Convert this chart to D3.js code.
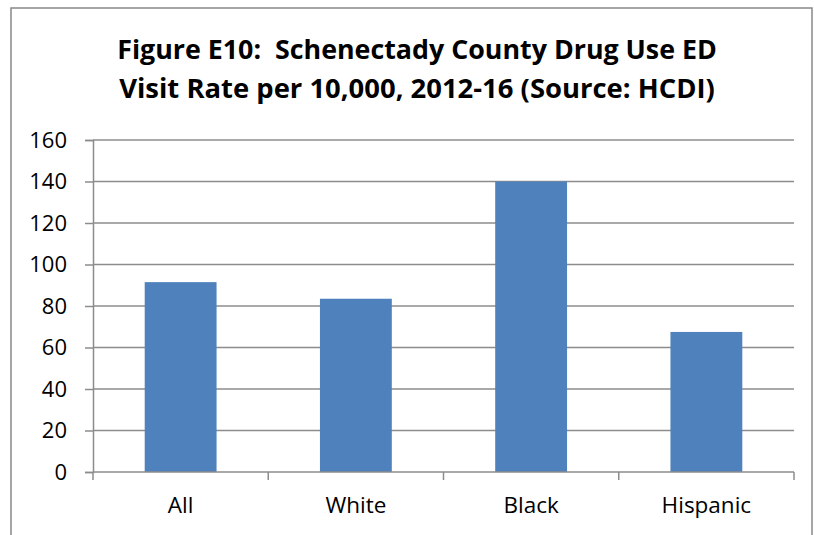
<!DOCTYPE html>
<html>
<head>
<meta charset="utf-8">
<script src="https://cdn.jsdelivr.net/npm/d3@7/dist/d3.min.js"></script>
<style>
  html, body { margin: 0; padding: 0; background: #fff; }
  svg { display: block; }
  text { font-family: "Open Sans", "Noto Sans", sans-serif; fill: #000; white-space: pre; }
</style>
</head>
<body>
<svg id="chart" width="814" height="535"></svg>
<script>
// Drug use ED visit rate per 10,000 by race/ethnicity
const categories = ["All", "White", "Black", "Hispanic"];
const rates = [91.5, 83.5, 140, 67.5];
const yTicks = [0, 20, 40, 60, 80, 100, 120, 140, 160];
const titleLines = [
  "Figure E10:  Schenectady County Drug Use ED",
  "Visit Rate per 10,000, 2012-16 (Source: HCDI)"
];

const svg = d3.select("#chart");
const W = 814, H = 535;
const margin = { left: 93, right: 20, top: 140, bottom: 63 };
const plotW = W - margin.left - margin.right;
const plotH = H - margin.top - margin.bottom;

// Outer chart frame
svg.append("rect")
  .attr("x", 11).attr("y", 8)
  .attr("width", 801).attr("height", 540)
  .attr("fill", "#fff")
  .attr("stroke", "#888").attr("stroke-width", 1.5);

// Title, fitted to its line width
const titleWidths = [600, 596];
titleLines.forEach((t, i) => {
  const el = svg.append("text")
    .attr("x", 417).attr("y", 59 + i * 38.5)
    .attr("text-anchor", "middle")
    .attr("font-weight", "bold")
    .attr("font-size", 24)
    .text(t);
  const len = el.node().getComputedTextLength();
  el.attr("font-size", 24 * titleWidths[i] / len);
});

const g = svg.append("g").attr("transform", `translate(${margin.left},${margin.top})`);

const x = d3.scaleBand().domain(categories).range([0, plotW]).paddingInner(0.59).paddingOuter(0.295);
const xEdges = d3.scaleBand().domain(categories).range([0, plotW]);
const y = d3.scaleLinear().domain([0, 160]).range([plotH, 0]);

// Horizontal gridlines
g.append("g")
  .selectAll("line")
  .data(yTicks.filter(v => v > 0))
  .join("line")
  .attr("x1", 0).attr("x2", plotW)
  .attr("y1", d => y(d)).attr("y2", d => y(d))
  .attr("stroke", "#8c8c8c").attr("stroke-width", 1.5);

// Bars
g.append("g")
  .selectAll("rect")
  .data(categories)
  .join("rect")
  .attr("x", d => x(d))
  .attr("width", x.bandwidth())
  .attr("y", (d, i) => y(rates[i]))
  .attr("height", (d, i) => plotH - y(rates[i]))
  .attr("fill", "#4f81bd");

// Y axis
const yAxis = g.append("g")
  .call(d3.axisLeft(y).tickValues(yTicks).tickSize(8).tickPadding(18));
yAxis.select(".domain").attr("stroke", "#8c8c8c").attr("stroke-width", 1.5);
yAxis.selectAll(".tick line").attr("stroke", "#8c8c8c").attr("stroke-width", 1.5);
yAxis.selectAll(".tick text")
  .attr("font-size", 22)
  .attr("font-family", "'Open Sans', sans-serif")
  .attr("fill", "#000");

// X axis baseline with category boundary ticks
const xAxisG = g.append("g").attr("transform", `translate(0,${plotH})`);
xAxisG.append("line")
  .attr("x1", 0).attr("x2", plotW)
  .attr("stroke", "#8c8c8c").attr("stroke-width", 1.5);
const edges = categories.map(c => xEdges(c)).concat([plotW]);
xAxisG.selectAll("line.edge")
  .data(edges)
  .join("line")
  .attr("class", "edge")
  .attr("x1", d => d).attr("x2", d => d)
  .attr("y1", 0).attr("y2", 8)
  .attr("stroke", "#8c8c8c").attr("stroke-width", 1.5);
xAxisG.selectAll("text")
  .data(categories)
  .join("text")
  .attr("x", d => xEdges(d) + xEdges.bandwidth() / 2)
  .attr("y", 41)
  .attr("text-anchor", "middle")
  .attr("font-size", 22.5)
  .text(d => d);
</script>
</body>
</html>
